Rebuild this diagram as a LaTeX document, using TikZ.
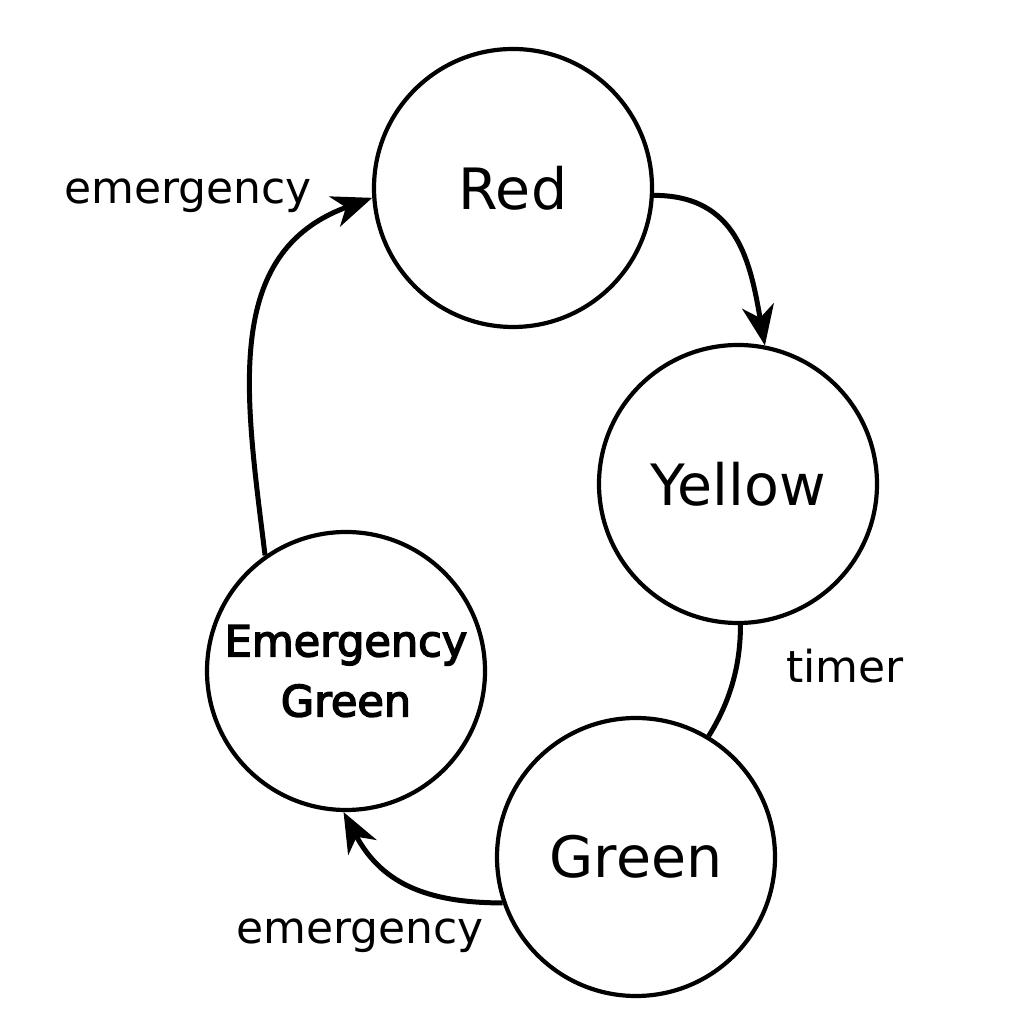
\documentclass[tikz,border=0pt]{standalone}
\usepackage{fontspec}
\setmainfont{DejaVu Sans}
\newfontfamily\egfont[FakeBold=3.5]{DejaVu Sans}
\usetikzlibrary{arrows.meta}

\begin{document}
\begin{tikzpicture}[x=1pt, y=1pt,
	state/.style={circle, draw, line width=4.2pt, inner sep=0pt, minimum size=278pt,
		font=\fontsize{57}{68}\selectfont},
	trans/.style={line width=5pt, -{Stealth[length=40pt, width=32pt, inset=12pt]}},
	plain/.style={line width=5pt},
	lbl/.style={font=\fontsize{44}{52}\selectfont}]
	\useasboundingbox (0,0) rectangle (1024,1024);

	\node[state] (red) at (513,836) {Red};
	\node[state] (yellow) at (738,540) {Yellow};
	\node[state] (green) at (636,167) {Green};
	\node[state, font=\fontsize{43}{60}\egfont, align=center] (eg) at (346,353) {Emergency\\Green};

	\node[lbl] (l1) at (188,828) {emergency};
	\node[lbl] (l2) at (845,358) {timer};
	\node[lbl] (l3) at (360,88) {emergency};

	\draw[trans] (red.-3) to[out=0, in=100, looseness=1.15] (yellow.79);
	\draw[plain] (yellow.-89) to[out=-90, in=58, looseness=0.9] (green.59);
	\draw[trans] (green.199) to[out=180, in=-62, looseness=1.1] (eg.-91);
	\draw[trans] (eg.125) to[out=97, in=200, looseness=1.1] (red.184);
\end{tikzpicture}
\end{document}
